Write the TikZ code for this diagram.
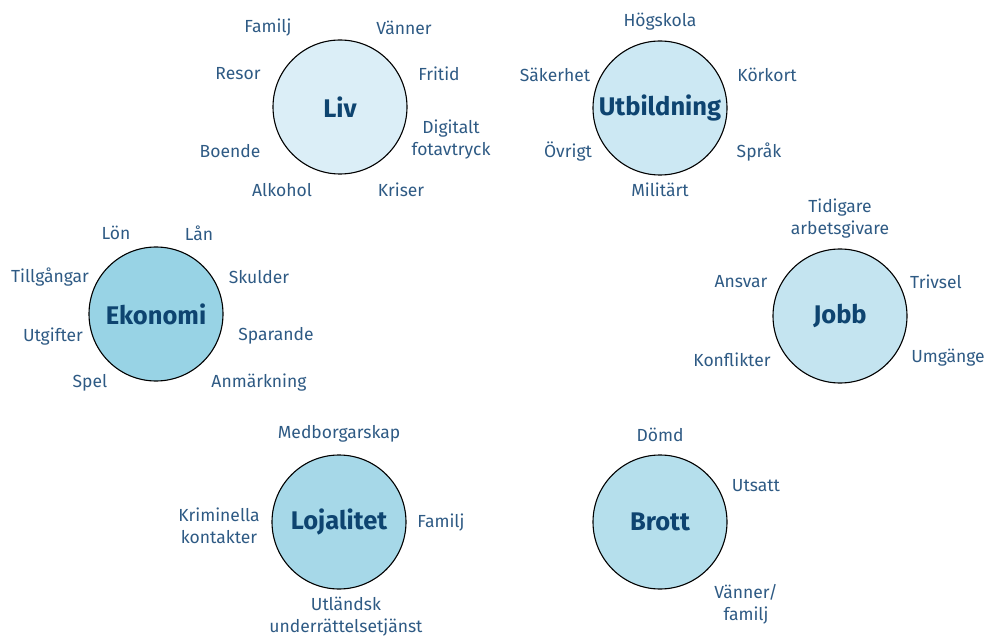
\documentclass[tikz,border=0pt]{standalone}
\usepackage{fontspec}
\setmainfont{Fira Sans}
\definecolor{txtblue}{HTML}{2E5A84}
\definecolor{hubblue}{HTML}{0E4470}
\definecolor{livfill}{HTML}{DBEEF7}
\definecolor{utbfill}{HTML}{CCE8F3}
\definecolor{ekofill}{HTML}{98D3E5}
\definecolor{jobfill}{HTML}{C4E4F0}
\definecolor{lojfill}{HTML}{A6D8E8}
\definecolor{brofill}{HTML}{B5DFEC}
\begin{document}
\begin{tikzpicture}[x=1pt,y=-1pt,
  hub/.style={circle,draw=black,line width=1.1pt,minimum size=134pt,inner sep=0pt,
    font=\fontsize{25.5}{30}\selectfont\bfseries,text=hubblue},
  item/.style={font=\fontsize{17.5}{22}\selectfont,text=txtblue,align=center,inner sep=0pt}]
  \useasboundingbox (0,0) rectangle (985,636);

  % Liv
  \node[hub,fill=livfill] (liv) at (340,107) {Liv};
  \node[item] (liv-familj) at (268,28) {Familj};
  \node[item] (liv-vanner) at (404,28) {Vänner};
  \node[item] (liv-resor) at (238,74) {Resor};
  \node[item] (liv-fritid) at (439,74) {Fritid};
  \node[item] (liv-boende) at (230,151) {Boende};
  \node[item] (liv-digital) at (451,140) {Digitalt\\fotavtryck};
  \node[item] (liv-alkohol) at (282,190) {Alkohol};
  \node[item] (liv-kriser) at (401,190) {Kriser};

  % Utbildning
  \node[hub,fill=utbfill] (utb) at (660,108) {Utbildning};
  \node[item] (utb-hogskola) at (660,22) {Högskola};
  \node[item] (utb-sakerhet) at (555,75) {Säkerhet};
  \node[item] (utb-korkort) at (767,75) {Körkort};
  \node[item] (utb-ovrigt) at (568,152) {Övrigt};
  \node[item] (utb-sprak) at (759,152) {Språk};
  \node[item] (utb-militart) at (660,190) {Militärt};

  % Ekonomi
  \node[hub,fill=ekofill] (eko) at (156,314) {Ekonomi};
  \node[item] (eko-lon) at (116,233) {Lön};
  \node[item] (eko-lan) at (199,233) {Lån};
  \node[item] (eko-tillg) at (50,277) {Tillgångar};
  \node[item] (eko-skulder) at (259,277) {Skulder};
  \node[item] (eko-utgifter) at (53,337) {Utgifter};
  \node[item] (eko-sparande) at (276,336) {Sparande};
  \node[item] (eko-spel) at (90,383) {Spel};
  \node[item] (eko-anm) at (259,383) {Anmärkning};

  % Jobb
  \node[hub,fill=jobfill] (jobb) at (840,316) {Jobb};
  \node[item] (jobb-tidigare) at (840,219) {Tidigare\\arbetsgivare};
  \node[item] (jobb-ansvar) at (741,282) {Ansvar};
  \node[item] (jobb-trivsel) at (936,282) {Trivsel};
  \node[item] (jobb-konflikt) at (732,360) {Konflikter};
  \node[item] (jobb-umgange) at (948,358) {Umgänge};

  % Lojalitet
  \node[hub,fill=lojfill] (loj) at (339,522) {Lojalitet};
  \node[item] (loj-medb) at (339,434) {Medborgarskap};
  \node[item] (loj-krim) at (219,526) {Kriminella\\kontakter};
  \node[item] (loj-familj) at (441,523) {Familj};
  \node[item] (loj-utl) at (346,617) {Utländsk\\underrättelsetjänst};

  % Brott
  \node[hub,fill=brofill] (brott) at (660,522) {Brott};
  \node[item] (brott-domd) at (660,435) {Dömd};
  \node[item] (brott-utsatt) at (756,486) {Utsatt};
  \node[item] (brott-vanner) at (746,604) {Vänner/\\familj};
\end{tikzpicture}
\end{document}
